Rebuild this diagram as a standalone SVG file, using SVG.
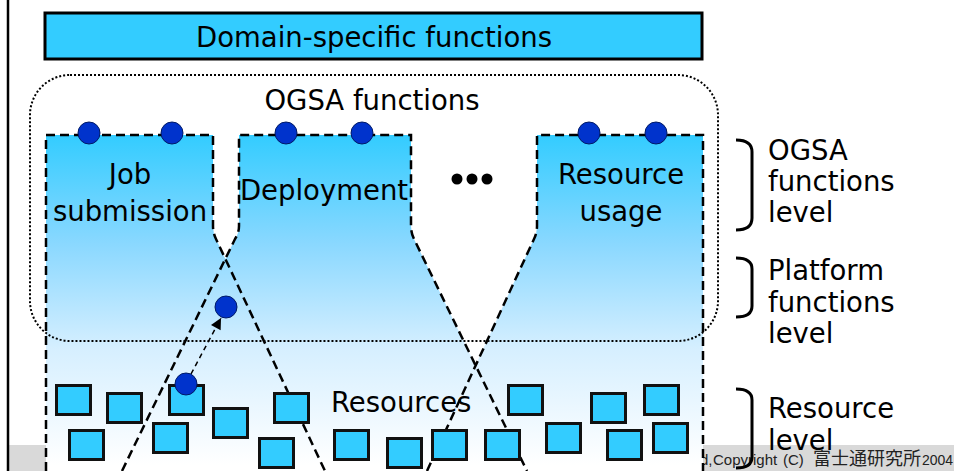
<svg xmlns="http://www.w3.org/2000/svg" width="954" height="471" viewBox="0 0 954 471">
  <defs>
    <linearGradient id="grad" gradientUnits="userSpaceOnUse" x1="0" y1="135" x2="0" y2="465">
      <stop offset="0" stop-color="#33CCFF"/>
      <stop offset="0.33" stop-color="#8AD8FF"/>
      <stop offset="0.65" stop-color="#D6EFFF"/>
      <stop offset="1" stop-color="#FFFFFF"/>
    </linearGradient>
    <marker id="arrow" viewBox="0 0 10 10" refX="10" refY="5" markerWidth="13" markerHeight="11" markerUnits="userSpaceOnUse" orient="auto">
      <path d="M0,0 L10,5 L0,10 Z" fill="#000"/>
    </marker>
    <style>
      .t { font-family: "DejaVu Sans", "Noto Sans", sans-serif; font-size: 27.5px; fill: #000; }
      .mid { text-anchor: middle; }
      .dash { fill: none; stroke: #000; stroke-width: 2.5; stroke-dasharray: 9 5; }
      .dot { fill: #0033CC; stroke: #001A66; stroke-width: 1; }
      .sq { fill: #33CCFF; stroke: #111; stroke-width: 3; }
      .br { fill: none; stroke: #000; stroke-width: 3; }
      .foot { font-family: "Liberation Sans", "Noto Sans CJK JP", sans-serif; font-size: 15px; fill: #222; }
    </style>
  </defs>

  <rect x="0" y="0" width="954" height="471" fill="#FFFFFF"/>
  <!-- footer band -->
  <g id="footer">
    <rect x="9" y="445" width="945" height="26" fill="#D9D9D9"/>
    <text class="foot" y="465"><tspan x="700">d,</tspan><tspan x="713">Copyright</tspan><tspan x="783">(C)</tspan><tspan x="813" font-family="Noto Sans CJK JP, sans-serif" font-size="18">富士通研究所</tspan><tspan x="922" font-size="14">2004</tspan></text>
  </g>
  <line x1="8" y1="0" x2="8" y2="471" stroke="#000" stroke-width="2.5"/>

  <!-- gradient area behind function boxes -->
  <path d="M46,135 H213 V226 Q213,233 216,239 L225.4,259 L235,239 Q239,233 239,226 V135 H411 V226 Q411,233 414,239 L475.5,365.5 L534,239 Q537,233 537,226 V135 H703 V471 H46 Z" fill="url(#grad)"/>

  <g id="domain-functions">
    <rect x="45" y="13" width="657" height="46" fill="#33CCFF" stroke="#000" stroke-width="3"/>
    <text class="t mid" x="374" y="47">Domain-specific functions</text>
  </g>

  <g id="job-submission">
    <path class="dash" d="M46,471 V135 H213 V226 Q213,233 216,239 L325,471"/>
    <circle class="dot" cx="89" cy="133" r="11"/>
    <circle class="dot" cx="172" cy="133" r="11"/>
    <text class="t mid" x="130" y="184">Job</text>
    <text class="t mid" x="130" y="221">submission</text>
  </g>

  <g id="deployment">
    <path class="dash" d="M122,471 L235,239 Q239,233 239,226 V135 H411 V226 Q411,233 414,239 L527,471"/>
    <circle class="dot" cx="286" cy="133" r="11"/>
    <circle class="dot" cx="362" cy="133" r="11"/>
    <text class="t mid" x="324" y="200">Deployment</text>
  </g>

  <g id="ellipsis">
    <circle cx="457" cy="179" r="5.5" fill="#000"/>
    <circle cx="472" cy="179" r="5.5" fill="#000"/>
    <circle cx="487" cy="179" r="5.5" fill="#000"/>
  </g>

  <g id="resource-usage">
    <path class="dash" d="M427,471 L534,239 Q537,233 537,226 V135 H703 V471"/>
    <circle class="dot" cx="589" cy="133" r="11"/>
    <circle class="dot" cx="656" cy="133" r="11"/>
    <text class="t mid" x="621" y="184">Resource</text>
    <text class="t mid" x="621" y="221">usage</text>
  </g>

  <g id="ogsa-functions">
    <rect x="30" y="75" width="688" height="266" rx="40" ry="40" fill="none" stroke="#000" stroke-width="2" stroke-dasharray="2 2"/>
    <text class="t mid" x="372" y="110">OGSA functions</text>
  </g>

  <g id="resources">
    <rect class="sq" x="56.5" y="385.5" width="34" height="29"/>
    <rect class="sq" x="107.5" y="393.5" width="34" height="29"/>
    <rect class="sq" x="169.5" y="385.5" width="34" height="29"/>
    <rect class="sq" x="69.5" y="430.5" width="34" height="29"/>
    <rect class="sq" x="153.5" y="423.5" width="34" height="29"/>
    <rect class="sq" x="213.5" y="408.5" width="34" height="29"/>
    <rect class="sq" x="274.5" y="393.5" width="34" height="29"/>
    <rect class="sq" x="259.5" y="438.5" width="34" height="29"/>
    <rect class="sq" x="334.5" y="430.5" width="34" height="29"/>
    <rect class="sq" x="387.5" y="438.5" width="34" height="29"/>
    <rect class="sq" x="432.5" y="430.5" width="34" height="29"/>
    <rect class="sq" x="508.5" y="385.5" width="34" height="29"/>
    <rect class="sq" x="591.5" y="393.5" width="34" height="29"/>
    <rect class="sq" x="644.5" y="385.5" width="34" height="29"/>
    <rect class="sq" x="485.5" y="430.5" width="34" height="29"/>
    <rect class="sq" x="546.5" y="423.5" width="34" height="29"/>
    <rect class="sq" x="607.5" y="430.5" width="34" height="29"/>
    <rect class="sq" x="653.5" y="423.5" width="34" height="29"/>
    <text class="t" x="331" y="412">Resources</text>
  </g>

  <g id="connectors">
    <line x1="191" y1="374" x2="221" y2="318" stroke="#000" stroke-width="1.5" stroke-dasharray="5 4" marker-end="url(#arrow)"/>
  </g>

  <g id="platform-service">
    <circle class="dot" cx="226" cy="307" r="11"/>
    <circle class="dot" cx="186" cy="384" r="11"/>
  </g>

  <g id="levels">
    <path class="br" d="M736,140 Q752,140 752,152 V218 Q752,230 736,230"/>
    <text class="t" x="768" y="160">OGSA</text>
    <text class="t" x="768" y="191">functions</text>
    <text class="t" x="768" y="222">level</text>
    <path class="br" d="M736,258 Q752,258 752,269 V306 Q752,317 736,317"/>
    <text class="t" x="768" y="280">Platform</text>
    <text class="t" x="768" y="312">functions</text>
    <text class="t" x="768" y="343">level</text>
    <path class="br" d="M736,389 Q752,389 752,400 V457 Q752,468 736,468"/>
    <text class="t" x="768" y="418">Resource</text>
    <text class="t" x="768" y="450">level</text>
  </g>
</svg>
